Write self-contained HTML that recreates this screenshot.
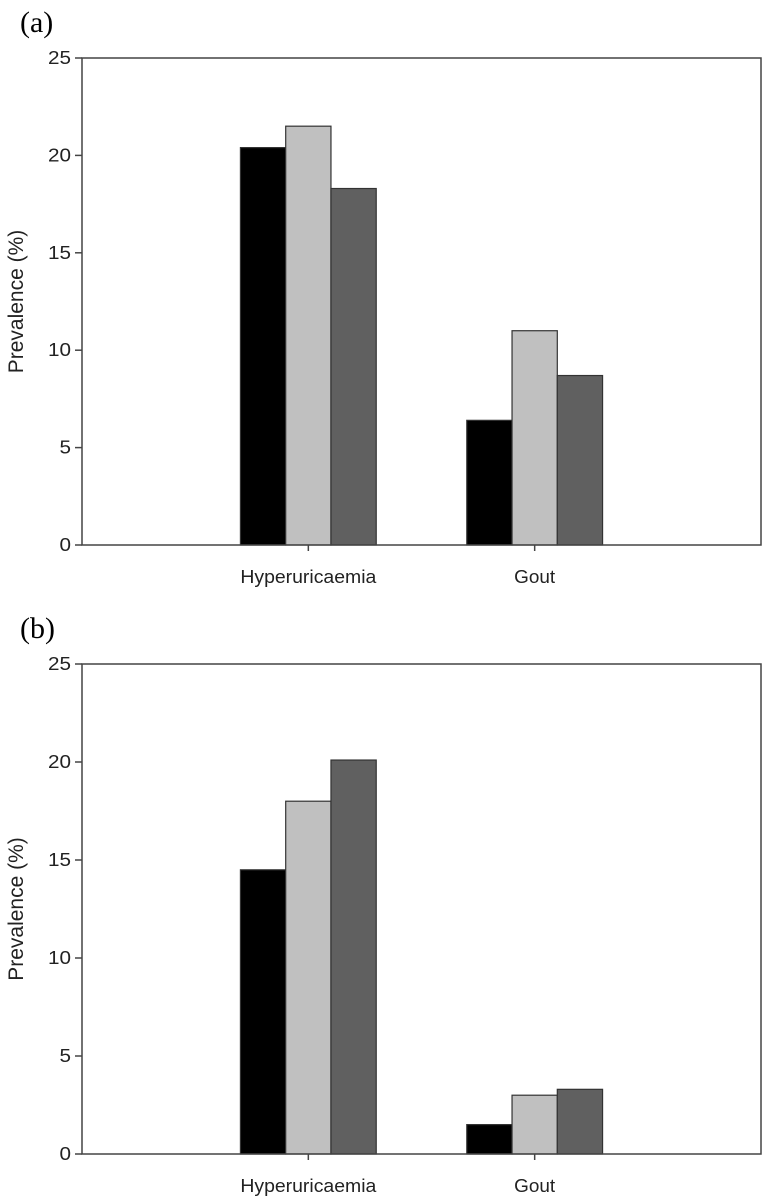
<!DOCTYPE html>
<html><head><meta charset="utf-8"><style>
html,body{margin:0;padding:0;background:#fff;}
svg{display:block;}
text{font-family:"Liberation Sans",Arial,sans-serif;fill:#222;}
.pl{font-family:"Liberation Serif",serif;fill:#000;font-size:30px;}
</style></head><body>
<svg id="chart" width="768" height="1202" viewBox="0 0 768 1202"></svg>
<script>
const categories = ["Hyperuricaemia", "Gout"];
const panelLabels = ["(a)", "(b)"];
const seriesA1 = [20.4, 6.4];
const seriesA2 = [21.5, 11.0];
const seriesA3 = [18.3, 8.7];
const seriesB1 = [14.5, 1.5];
const seriesB2 = [18.0, 3.0];
const seriesB3 = [20.1, 3.3];
const yTicks = [0, 5, 10, 15, 20, 25];
const yMax = 25;

const NS = "http://www.w3.org/2000/svg";
const svg = document.getElementById("chart");
const fills = ["#000000", "#c0c0c0", "#606060"];
function mk(tag, attrs, parent) {
  const e = document.createElementNS(NS, tag);
  for (const k in attrs) e.setAttribute(k, attrs[k]);
  parent.appendChild(e);
  return e;
}
const left = 82, right = 761;
const band = (right - left) / 3;
function xCenter(i) { return left + band * (i + 1); }
const barW = band * 0.2;

function drawPanel(idx, top, bottom, series) {
  const g = mk("g", {}, svg);
  
  
  const y = v => bottom - (v / yMax) * (bottom - top);
  const lab = mk("text", {x: 20, y: top - 26, class: "pl"}, g);
  
  
  lab.textContent = panelLabels[idx];
  series.forEach((s, si) => {
    s.forEach((v, ci) => {
      const x0 = xCenter(ci) - 1.5 * barW + si * barW;
      const r = mk("rect", {x: x0, y: y(v), width: barW, height: bottom - y(v), fill: fills[si], stroke: "#333", "stroke-width": 1.2}, g);
      
      
    });
  });
  const fr = mk("rect", {x: left, y: top, width: right - left, height: bottom - top, fill: "none", stroke: "#444", "stroke-width": 1.5}, g);
  
  
  yTicks.forEach(t => {
    const ln = mk("line", {x1: left - 7, x2: left, y1: y(t), y2: y(t), stroke: "#444", "stroke-width": 1.5}, g);
    
    
    const tx = mk("text", {x: left - 11, y: y(t) + 6, "text-anchor": "end", "font-size": 18, textLength: t >= 10 ? 23 : 11.5, lengthAdjust: "spacingAndGlyphs"}, g);
    
    
    tx.textContent = t;
  });
  categories.forEach((c, ci) => {
    const ln = mk("line", {x1: xCenter(ci), x2: xCenter(ci), y1: bottom, y2: bottom + 6, stroke: "#444", "stroke-width": 1.5}, g);
    
    
    const tx = mk("text", {x: xCenter(ci), y: bottom + 38, "text-anchor": "middle", "font-size": 18, textLength: ci === 0 ? 136 : 41, lengthAdjust: "spacingAndGlyphs"}, g);
    
    
    tx.textContent = c;
  });
  const cy = (top + bottom) / 2;
  const yt = mk("text", {x: 23, y: cy, "text-anchor": "middle", "font-size": 21, transform: "rotate(-90 23 " + cy + ")"}, g);
  
  
  yt.textContent = "Prevalence (%)";
}
drawPanel(0, 58, 545, [seriesA1, seriesA2, seriesA3]);
drawPanel(1, 664, 1154, [seriesB1, seriesB2, seriesB3]);
</script>
</body></html>
